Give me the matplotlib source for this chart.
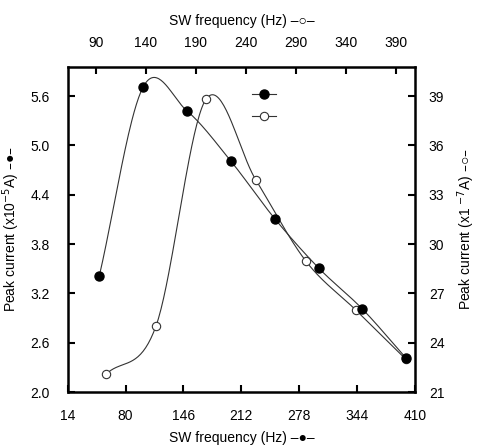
import numpy as np
import matplotlib
matplotlib.use('Agg')
import matplotlib.pyplot as plt

plt.rcParams['font.family'] = ['Liberation Sans', 'DejaVu Sans']

# filled series: bottom x axis, left y axis (x10^-5 A)
freq_filled = [50, 100, 150, 200, 250, 300, 350, 400]
current_filled = [3.41, 5.71, 5.42, 4.81, 4.11, 3.51, 3.01, 2.41]

# open series: top x axis, right y axis (x10^-7 A)
freq_open = [100, 150, 200, 250, 300, 350, 400]
current_open = [22.08, 25.0, 38.8, 33.9, 28.97, 25.99, 23.0]

bottom_ticks = [14, 80, 146, 212, 278, 344, 410]
top_ticks = [90, 140, 190, 240, 290, 340, 390]
left_ticks = [2.0, 2.6, 3.2, 3.8, 4.4, 5.0, 5.6]
right_ticks = [21, 24, 27, 30, 33, 36, 39]


def smooth_curve(x, y, n=40):
    # Catmull-Rom style cubic through the points
    x = np.asarray(x, float)
    y = np.asarray(y, float)
    k = len(x)
    m = np.zeros(k)
    m[0] = (y[1] - y[0]) / (x[1] - x[0])
    m[-1] = (y[-1] - y[-2]) / (x[-1] - x[-2])
    m[1:-1] = (y[2:] - y[:-2]) / (x[2:] - x[:-2])
    xs_all, ys_all = [], []
    for i in range(k - 1):
        h = x[i + 1] - x[i]
        t = np.linspace(0, 1, n)
        h00 = 2 * t**3 - 3 * t**2 + 1
        h10 = t**3 - 2 * t**2 + t
        h01 = -2 * t**3 + 3 * t**2
        h11 = t**3 - t**2
        xs_all.append(x[i] + t * h)
        ys_all.append(h00 * y[i] + h10 * h * m[i] + h01 * y[i + 1] + h11 * h * m[i + 1])
    return np.concatenate(xs_all), np.concatenate(ys_all)


fig = plt.figure(figsize=(4.79, 4.47), dpi=100)
ax = fig.add_axes([0.1413, 0.123, 0.7251, 0.7282])
ax2 = fig.add_axes(ax.get_position(), frameon=False)
ax.set_zorder(2)
ax.patch.set_visible(False)

fs = 10
line_kw = dict(color='#333333', lw=0.8)

xs, ys = natural = smooth_curve(freq_filled, current_filled)
ax.plot(xs, ys, **line_kw)
h1, = ax.plot(freq_filled, current_filled, 'o', ms=6.5, mfc='black', mec='black', zorder=3)

xs, ys = smooth_curve(freq_open, current_open)
ax2.plot(xs, ys, **line_kw)
h2, = ax2.plot(freq_open, current_open, 'o', ms=6, mfc='white', mec='#333333', mew=0.8, zorder=2)

ax.set_xlim(14, 410)
ax.set_ylim(2.0, 5.96)
ax2.set_xlim(61.7, 409.3)
ax2.set_ylim(21, 40.8)

ax.set_xticks(bottom_ticks)
ax.set_yticks(left_ticks)
ax.set_yticklabels([f'{v:.1f}' for v in left_ticks])
ax2.set_xticks(top_ticks)
ax2.set_yticks(right_ticks)

ax2.xaxis.tick_top()
ax2.yaxis.tick_right()
ax2.xaxis.set_label_position('top')
ax2.yaxis.set_label_position('right')

for s in ax.spines.values():
    s.set_linewidth(1.8)

ax.tick_params(axis='x', direction='in', length=5, width=1.5, pad=12, labelsize=fs)
ax.tick_params(axis='y', direction='in', length=5, width=1.5, pad=13, labelsize=fs)
ax2.tick_params(axis='x', direction='in', length=5, width=1.5, pad=12, labelsize=fs)
ax2.tick_params(axis='y', direction='in', length=5, width=1.5, pad=10, labelsize=fs)

ax.set_xlabel('SW frequency (Hz) \u2013\u25cf\u2013', fontsize=fs, labelpad=6)
ax.set_ylabel('Peak current (x10$^{-5}$A) \u2013\u25cf\u2013', fontsize=fs, labelpad=6)
ax2.set_xlabel('SW frequency (Hz) \u2013\u25cb\u2013', fontsize=fs, labelpad=8)
ax2.set_ylabel('Peak current (x1 $^{-7}$A) \u2013\u25cb\u2013', fontsize=fs, labelpad=8)

ax.legend([h1, h2], ['', ''], loc='center', bbox_to_anchor=(0.565, 0.88),
          frameon=False, handlelength=1.7, handletextpad=0, labelspacing=0.6,
          fontsize=fs)
leg = ax.get_legend()
for ln in leg.get_lines():
    ln.set_linestyle('-')
    ln.set_color('#333333')
    ln.set_linewidth(0.8)

fig.savefig('out.png', dpi=100)
